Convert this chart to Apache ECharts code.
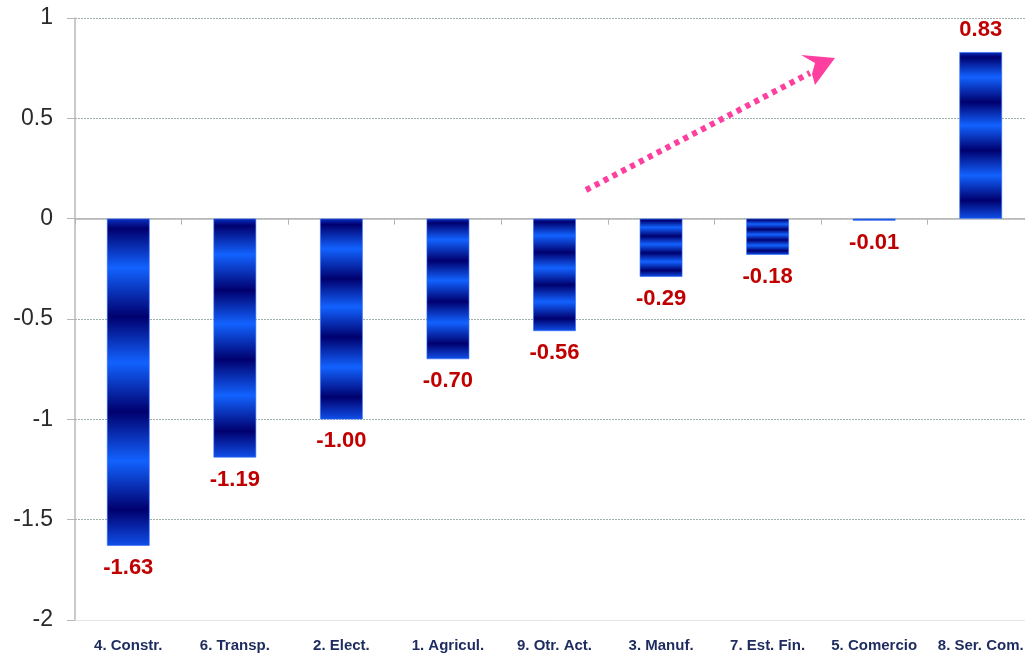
<!DOCTYPE html>
<html>
<head>
<meta charset="utf-8">
<script src="https://cdn.jsdelivr.net/npm/echarts@6/dist/echarts.min.js"></script>
<style>
  html, body { margin: 0; padding: 0; background: #ffffff; overflow: hidden; }
  #wrap { width: 1025px; height: 653px; overflow: hidden; }
  /* plot runs slightly past the right edge of the page */
  #chart { width: 1034px; height: 653px; }
</style>
</head>
<body>
<div id="wrap"><div id="chart"></div></div>
<script>
// Sector contributions
const categories = ['4. Constr.', '6. Transp.', '2. Elect.', '1. Agricul.', '9. Otr. Act.', '3. Manuf.', '7. Est. Fin.', '5. Comercio', '8. Ser. Com.'];
const values = [-1.63, -1.19, -1.00, -0.70, -0.56, -0.29, -0.18, -0.01, 0.83];
const yTicks = { min: -2, max: 1, interval: 0.5 };

const FONT = 'Arial, "Liberation Sans", sans-serif';
const DARK = '#00006e';
const BRIGHT = '#1262ff';

// banded blue fill, stretched over each bar's own height
const bandFill = {
  type: 'linear', x: 0, y: 0, x2: 0, y2: 1,
  colorStops: [
    { offset: 0.00, color: '#0a2fc0' },
    { offset: 0.03, color: DARK },
    { offset: 0.15, color: BRIGHT },
    { offset: 0.30, color: DARK },
    { offset: 0.44, color: BRIGHT },
    { offset: 0.59, color: DARK },
    { offset: 0.74, color: BRIGHT },
    { offset: 0.89, color: DARK },
    { offset: 1.00, color: '#0f4fe8' }
  ]
};

const chart = echarts.init(document.getElementById('chart'), null, { renderer: 'canvas' });

chart.setOption({
  animation: false,
  backgroundColor: '#ffffff',
  grid: { left: 75, top: 18, right: 0, height: 602, containLabel: false },
  xAxis: [
    {
      type: 'category',
      data: categories,
      position: 'bottom',
      axisLine: { onZero: false, lineStyle: { color: '#e2e6e4', width: 1 } },
      axisTick: { show: false },
      axisLabel: {
        interval: 0,
        margin: 18,
        fontFamily: FONT, fontSize: 15, fontWeight: 'bold', color: '#1d2b5e'
      }
    },
    {
      type: 'category',
      data: categories,
      position: 'bottom',
      axisLine: { onZero: true, lineStyle: { color: '#b4b4b4', width: 1.5 } },
      axisTick: { show: true, length: 6, lineStyle: { color: '#b4b4b4' } },
      axisLabel: { show: false }
    }
  ],
  yAxis: {
    type: 'value',
    min: yTicks.min, max: yTicks.max, interval: yTicks.interval,
    axisLine: { show: true, lineStyle: { color: '#b8b8b8', width: 1.5 } },
    axisTick: { show: true, length: 8, lineStyle: { color: '#b8b8b8' } },
    axisLabel: {
      margin: 22,
      fontFamily: FONT, fontSize: 23, color: '#2a2a2a',
      formatter: v => String(v)
    },
    splitLine: { show: true, lineStyle: { color: '#9fb2a8', type: [2, 1], width: 1 } }
  },
  series: [{
    type: 'bar',
    xAxisIndex: 0,
    data: values,
    barWidth: '40%',
    itemStyle: { color: bandFill, borderColor: '#2f6cff', borderWidth: 0.6 },
    label: {
      show: true,
      position: 'outside',
      distance: 11,
      fontFamily: FONT, fontSize: 22, fontWeight: 'bold', color: '#c00000',
      formatter: p => p.value.toFixed(2)
    }
  }],
  graphic: [
    {
      type: 'polyline',
      z: 100,
      shape: { points: [[586, 190], [810, 73]] },
      style: { stroke: '#ff3fa0', lineWidth: 6, lineDash: [5, 5], fill: null }
    },
    {
      type: 'polygon',
      z: 100,
      shape: { points: [[801, 55], [835, 58], [815, 85], [812, 74], [815, 63]] },
      style: { fill: '#ff3fa0' }
    }
  ]
});
</script>
</body>
</html>
